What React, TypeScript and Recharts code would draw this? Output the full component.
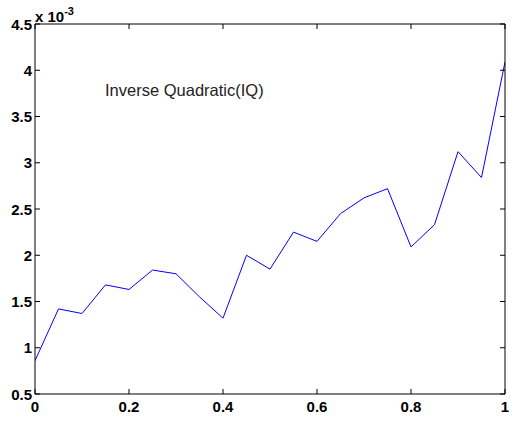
import React from 'react';
import { LineChart, Line, XAxis, YAxis } from 'recharts';

// values in units of 1e-3 (the axis carries the "x 10^-3" multiplier)
const xValues = [0, 0.05, 0.1, 0.15, 0.2, 0.25, 0.3, 0.35, 0.4, 0.45, 0.5, 0.55, 0.6, 0.65, 0.7, 0.75, 0.8, 0.85, 0.9, 0.95, 1];
const iqValues = [0.86, 1.42, 1.37, 1.68, 1.63, 1.84, 1.80, 1.55, 1.32, 2.00, 1.85, 2.25, 2.15, 2.45, 2.62, 2.72, 2.09, 2.33, 3.12, 2.84, 4.09];
const xTicks = [0, 0.2, 0.4, 0.6, 0.8, 1];
const yTicks = [0.5, 1, 1.5, 2, 2.5, 3, 3.5, 4, 4.5];

const FONT = '"Liberation Sans", Arial, Helvetica, sans-serif';
const TICK_LEN = 5;

const data = xValues.map((x, i) => ({ x, iq: iqValues[i] }));

const BottomTick = (props: any) => {
  const { x, y, payload } = props;
  return (
    <g>
      <line x1={x} y1={y} x2={x} y2={y - TICK_LEN} stroke="#000" />
      <text x={x} y={y + 17.5} textAnchor="middle" fontFamily={FONT} fontWeight="bold" fontSize={15} fill="#000">
        {payload.value}
      </text>
    </g>
  );
};

const TopTick = (props: any) => {
  const { x, y } = props;
  return <line x1={x} y1={y} x2={x} y2={y + TICK_LEN} stroke="#000" />;
};

const LeftTick = (props: any) => {
  const { x, y, payload } = props;
  return (
    <g>
      <line x1={x} y1={y} x2={x + TICK_LEN} y2={y} stroke="#000" />
      <text x={x - 3} y={y + 5.5} textAnchor="end" fontFamily={FONT} fontWeight="bold" fontSize={15} fill="#000">
        {payload.value}
      </text>
    </g>
  );
};

const RightTick = (props: any) => {
  const { x, y } = props;
  return <line x1={x} y1={y} x2={x - TICK_LEN} y2={y} stroke="#000" />;
};

const App = () => {
  return (
    <div style={{ position: 'absolute', left: 0, top: 0, width: 517, height: 426, background: '#fff' }}>
      <LineChart width={517} height={426} data={data} margin={{ top: 23, right: 11, bottom: 0, left: 0 }}>
        <XAxis
          xAxisId="bottom"
          orientation="bottom"
          dataKey="x"
          type="number"
          domain={[0, 1]}
          ticks={xTicks}
          allowDataOverflow
          height={32}
          tickSize={0}
          tickMargin={0}
          tickLine={false}
          axisLine={{ stroke: '#000' }}
          tick={<BottomTick />}
          interval={0}
        />
        <XAxis
          xAxisId="top"
          orientation="top"
          dataKey="x"
          type="number"
          domain={[0, 1]}
          ticks={xTicks}
          allowDataOverflow
          height={1}
          tickSize={0}
          tickMargin={0}
          tickLine={false}
          axisLine={{ stroke: '#000' }}
          tick={<TopTick />}
          interval={0}
        />
        <YAxis
          yAxisId="left"
          orientation="left"
          type="number"
          domain={[0.5, 4.5]}
          ticks={yTicks}
          allowDataOverflow
          width={35}
          tickSize={0}
          tickMargin={0}
          tickLine={false}
          axisLine={{ stroke: '#000' }}
          tick={<LeftTick />}
          interval={0}
        />
        <YAxis
          yAxisId="right"
          orientation="right"
          type="number"
          domain={[0.5, 4.5]}
          ticks={yTicks}
          allowDataOverflow
          width={1}
          tickSize={0}
          tickMargin={0}
          tickLine={false}
          axisLine={{ stroke: '#000' }}
          tick={<RightTick />}
          interval={0}
        />
        {/* invisible copy so the top/right frame axes get drawn */}
        <Line
          xAxisId="top"
          yAxisId="right"
          type="linear"
          dataKey="iq"
          stroke="transparent"
          dot={false}
          activeDot={false}
          legendType="none"
          isAnimationActive={false}
        />
        <Line
          xAxisId="bottom"
          yAxisId="left"
          type="linear"
          dataKey="iq"
          stroke="#0000ff"
          strokeWidth={1}
          dot={false}
          isAnimationActive={false}
        />
      </LineChart>
      <div style={{ position: 'absolute', left: 35, top: 4, fontFamily: FONT, fontWeight: 'bold', fontSize: 15, color: '#000', lineHeight: '17px', whiteSpace: 'nowrap' }}>
        x 10<sup style={{ fontSize: 11, position: 'relative', top: -1 }}>-3</sup>
      </div>
      <div style={{ position: 'absolute', left: 105, top: 80, fontFamily: FONT, fontSize: 16.5, color: '#222', lineHeight: '20px', whiteSpace: 'nowrap' }}>
        Inverse Quadratic(IQ)
      </div>
    </div>
  );
};

export default App;
